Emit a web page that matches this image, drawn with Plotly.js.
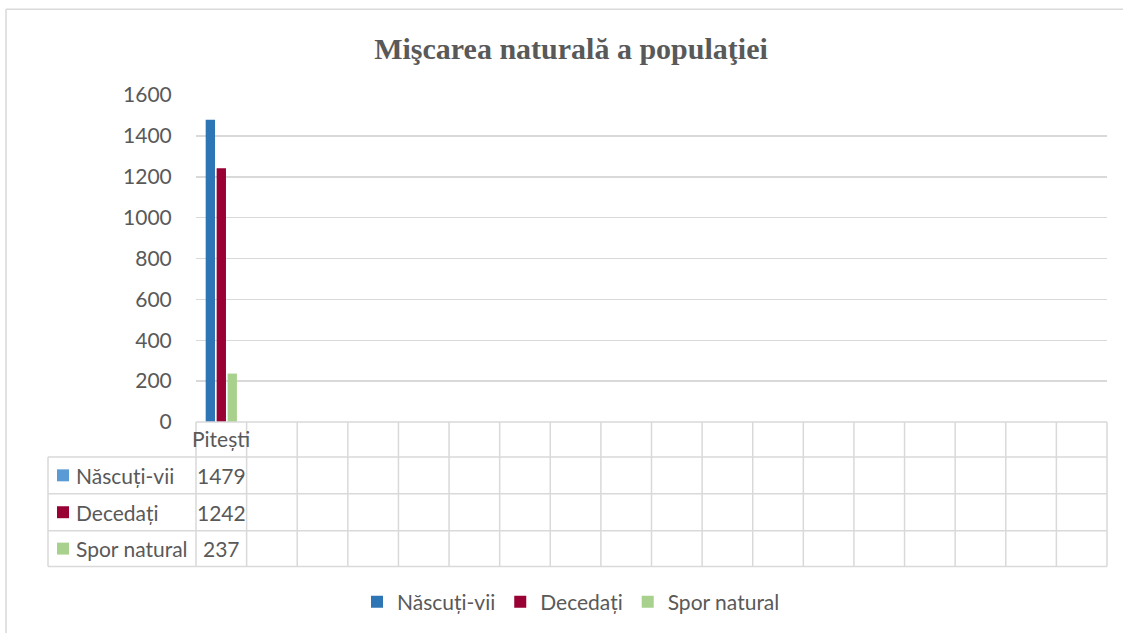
<!DOCTYPE html>
<html>
<head>
<meta charset="utf-8">
<script src="https://cdn.plot.ly/plotly-3.0.1.min.js"></script>
<style>html,body{margin:0;padding:0;background:#fff;}#chart{width:1123px;height:633px;}</style>
</head>
<body>
<div id="chart"></div>
<script>
// ---- data ----
const categories = ["Pitești"];
const seriesNames = ["Născuți-vii", "Decedați", "Spor natural"];
const nascuti = [1479];
const decedati = [1242];
const spor = [237];
const seriesColors = ["#2E75B6", "#990033", "#A9D18E"];
const keyColors = ["#5B9BD5", "#990033", "#A9D18E"];
const emptyColumns = 17;
const titleText = "Mişcarea naturală a populaţiei";

// ---- layout helpers (pixel -> paper) ----
const L = 196, R = 1107, T = 95, B = 423, W = 1123, H = 633;
const pw = R - L, ph = B - T;
const px = v => (v - L) / pw;
const py = v => (B - v) / ph;

const seriesValues = [nascuti, decedati, spor];
const traces = seriesNames.map((n, i) => ({
  type: "bar", name: n, x: categories, y: seriesValues[i],
  marker: {color: seriesColors[i]}, hoverinfo: "x+y+name"
}));

const gridCol = "#d9d9d9";
const txtCol = "#595959";
const fnt = "Lato, 'Open Sans', sans-serif";
const fs = 21;
const nCols = categories.length + emptyColumns;
const colW = pw / nCols;

const shapes = [];
// outer frame
shapes.push({type: "line", xref: "paper", yref: "paper", x0: px(6), x1: px(W + 5), y0: py(9), y1: py(9), line: {color: gridCol, width: 1.5}});
shapes.push({type: "line", xref: "paper", yref: "paper", x0: px(6), x1: px(6), y0: py(9), y1: py(H + 5), line: {color: gridCol, width: 1.5}});
// table
const rowLines = [458, 495, 532, 568];
shapes.push({type: "line", xref: "paper", yref: "paper", x0: px(L), x1: px(R), y0: py(B), y1: py(B), line: {color: gridCol, width: 1.5}});
rowLines.forEach(y => shapes.push({type: "line", xref: "paper", yref: "paper", x0: px(48), x1: px(R), y0: py(y), y1: py(y), line: {color: gridCol, width: 1.5}}));
shapes.push({type: "line", xref: "paper", yref: "paper", x0: px(48), x1: px(48), y0: py(458), y1: py(568), line: {color: gridCol, width: 1.5}});
for (let k = 0; k <= nCols; k++) {
  const x = L + k * colW;
  shapes.push({type: "line", xref: "paper", yref: "paper", x0: px(x), x1: px(x), y0: py(B), y1: py(568), line: {color: gridCol, width: 1.5}});
}
const rowCenters = [476.5, 513.5, 550];
const annotations = [];
annotations.push({xref: "x", yref: "paper", x: categories[0], y: py(440), text: categories[0], showarrow: false, xanchor: "center", yanchor: "middle", font: {family: fnt, size: fs, color: txtCol}});
seriesNames.forEach((n, i) => {
  shapes.push({type: "rect", xref: "paper", yref: "paper", x0: px(57), x1: px(69), y0: py(rowCenters[i] - 6), y1: py(rowCenters[i] + 6), fillcolor: keyColors[i], line: {width: 0}});
  annotations.push({xref: "paper", yref: "paper", x: px(74), y: py(rowCenters[i]), text: n, showarrow: false, xanchor: "left", yanchor: "middle", font: {family: fnt, size: fs, color: txtCol}});
  categories.forEach((c, j) => {
    annotations.push({xref: "x", yref: "paper", x: c, y: py(rowCenters[i]), text: String(seriesValues[i][j]), showarrow: false, xanchor: "center", yanchor: "middle", font: {family: fnt, size: fs, color: txtCol}});
  });
});

const layout = {
  width: W, height: H,
  margin: {l: L, r: W - R, t: T, b: H - B, pad: 0},
  paper_bgcolor: "#fff", plot_bgcolor: "#fff",
  title: {text: "<b>" + titleText + "</b>", xref: "paper", x: px(571), xanchor: "center", yref: "container", y: 1 - 48 / H, yanchor: "middle",
          font: {family: "'Liberation Serif', 'Times New Roman', serif", size: 30, color: txtCol}},
  barmode: "group", bargap: 0.35, bargroupgap: 0.15,
  xaxis: {type: "category", range: [-0.5, nCols - 0.5], showticklabels: false, showgrid: false, zeroline: false, showline: false, ticks: "", fixedrange: true},
  yaxis: {range: [0, 1600], dtick: 200, tick0: 0, showgrid: true, gridcolor: gridCol, gridwidth: 1.5, zeroline: false, showline: false,
          ticks: "outside", ticklen: 19, tickcolor: "rgba(0,0,0,0)", tickfont: {family: fnt, size: fs, color: txtCol}, fixedrange: true},
  showlegend: true,
  legend: {orientation: "h", x: px(571), xanchor: "center", y: py(602), yanchor: "middle", font: {family: fnt, size: fs, color: txtCol}, itemwidth: 30, bgcolor: "rgba(0,0,0,0)"},
  shapes: shapes, annotations: annotations
};
Plotly.newPlot("chart", traces, layout, {displayModeBar: false, staticPlot: true});
</script>
</body>
</html>
